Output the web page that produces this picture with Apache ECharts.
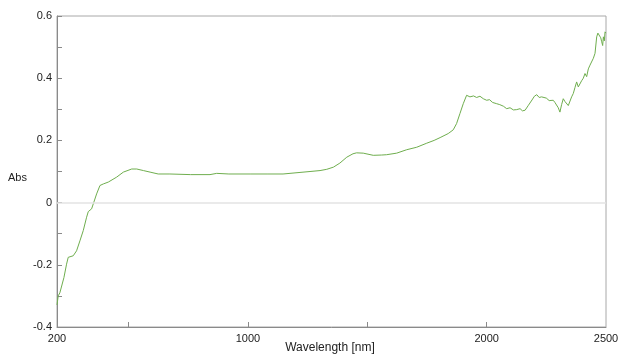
<!DOCTYPE html>
<html>
<head>
<meta charset="utf-8">
<script src="https://cdn.jsdelivr.net/npm/echarts@6/dist/echarts.min.js"></script>
<style>html,body{margin:0;padding:0;background:#fff}#c{width:618px;height:356px}</style>
</head>
<body>
<div id="c"></div>
<script>
const wavelengths = [200,205,212,220,229,240,247,254,268,282,296,310,324,331,345,352,366,380,394,415,450,478,513,534,562,590,624,673,760,841,869,920,1009,1080,1147,1218,1260,1302,1330,1358,1385,1414,1440,1455,1483,1525,1560,1581,1623,1665,1707,1749,1780,1805,1839,1860,1874,1888,1902,1916,1930,1945,1958,1972,1986,2000,2012,2025,2042,2055,2070,2084,2098,2112,2126,2140,2150,2161,2175,2190,2200,2210,2220,2230,2238,2250,2262,2270,2279,2286,2293,2300,2307,2314,2321,2328,2335,2342,2349,2356,2363,2370,2377,2384,2391,2398,2405,2412,2419,2426,2433,2440,2447,2454,2461,2466,2472,2478,2482,2486,2489,2493,2496,2500];
const absorbance = [-0.329,-0.300,-0.290,-0.284,-0.241,-0.198,-0.176,-0.174,-0.171,-0.155,-0.123,-0.090,-0.047,-0.029,-0.020,-0.004,0.028,0.055,0.060,0.066,0.082,0.098,0.108,0.108,0.103,0.098,0.092,0.092,0.090,0.090,0.094,0.092,0.092,0.092,0.092,0.097,0.100,0.103,0.107,0.114,0.127,0.146,0.157,0.160,0.159,0.152,0.153,0.154,0.159,0.170,0.178,0.191,0.200,0.209,0.222,0.234,0.254,0.286,0.318,0.345,0.340,0.343,0.338,0.342,0.334,0.329,0.331,0.322,0.318,0.315,0.310,0.302,0.305,0.298,0.299,0.302,0.295,0.297,0.313,0.330,0.342,0.347,0.338,0.340,0.334,0.336,0.328,0.332,0.329,0.322,0.318,0.305,0.291,0.315,0.334,0.325,0.330,0.312,0.316,0.340,0.351,0.370,0.388,0.372,0.367,0.392,0.400,0.415,0.405,0.430,0.442,0.440,0.464,0.480,0.533,0.545,0.549,0.530,0.517,0.505,0.533,0.520,0.549,0.545];

const xLabelValues = [200,1000,2000,2500];
const xTickValues = [500,1000,1500,2000];
const xAxisTitle = 'Wavelength [nm]';
const yAxisTitle = 'Abs';

const chart = echarts.init(document.getElementById('c'), null, {renderer:'canvas'});
const font = {fontFamily:'Liberation Sans, Arial, sans-serif', fontSize:11, color:'#222'};
chart.setOption({
  animation:false,
  backgroundColor:'#fff',
  grid:{left:57,right:12,top:16,bottom:29,show:true,borderColor:'#a8a8a8',borderWidth:1,containLabel:false,outerBoundsMode:'none'},
  xAxis:{
    type:'value',min:200,max:2500,
    axisLine:{show:true,onZero:false,lineStyle:{color:'#8a8a8a'}},
    axisTick:{show:true,inside:true,length:5,customValues:xTickValues,lineStyle:{color:'#8a8a8a'}},
    axisLabel:Object.assign({customValues:xLabelValues,margin:6,showMinLabel:true,showMaxLabel:true,hideOverlap:false,formatter:function(v){return String(v);}},font),
    splitLine:{show:false}
  },
  yAxis:{
    type:'value',min:-0.4,max:0.6,interval:0.2,
    axisLine:{show:true,onZero:false,lineStyle:{color:'#8a8a8a'}},
    axisTick:{show:true,inside:true,length:5,lineStyle:{color:'#8a8a8a'}},
    minorTick:{show:true,splitNumber:2,length:5,lineStyle:{color:'#8a8a8a'}},
    axisLabel:Object.assign({margin:5,formatter:function(v){return v===0?'0':(Math.round(v*10)/10).toString();}},font),
    splitLine:{show:false}
  },
  graphic:[
    {type:'text',left:8,top:172,style:{text:yAxisTitle,font:'11px Liberation Sans, Arial, sans-serif',fill:'#222'}},
    {type:'text',x:330,y:348,style:{text:xAxisTitle,font:'12px Liberation Sans, Arial, sans-serif',fill:'#222',align:'center',verticalAlign:'middle'}}
  ],
  series:[{
    type:'line',
    data:wavelengths.map((w,i)=>[w,absorbance[i]]),
    showSymbol:false,
    lineStyle:{color:'#6fae4e',width:1},
    markLine:{silent:true,symbol:'none',label:{show:false},lineStyle:{color:'#e3e3e3',type:'solid',width:1.5},data:[{yAxis:0}]}
  }]
});
</script>
</body>
</html>
